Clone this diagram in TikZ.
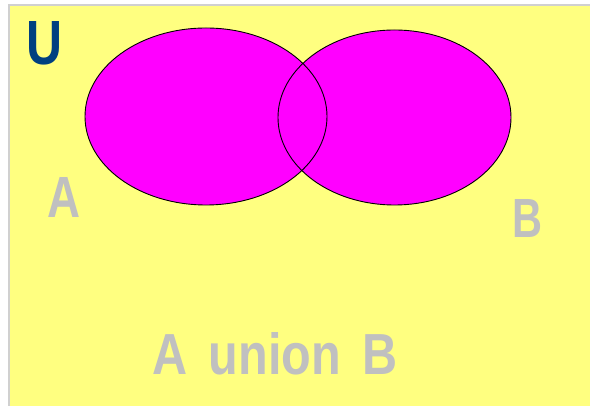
\documentclass[tikz,border=0pt]{standalone}
\usepackage{fontspec}
\setmainfont{Liberation Sans}
\usepackage{graphicx}
\definecolor{bgyellow}{RGB}{255,255,128}
\definecolor{setmag}{RGB}{255,0,255}
\definecolor{lblgray}{RGB}{192,192,192}
\definecolor{ublue}{RGB}{0,64,128}
\definecolor{framegray}{RGB}{208,208,208}
\tikzset{
  setfill/.style={fill=setmag},
  setline/.style={draw=black, line width=0.9pt},
  lbl/.style={inner sep=0pt, outer sep=0pt, anchor=south west, text=lblgray}
}
\begin{document}
\begin{tikzpicture}[x=1pt,y=1pt]
\useasboundingbox (0,0) rectangle (590,406);
\fill[white] (0,0) rectangle (590,406);
\fill[bgyellow] (10,0) rectangle (590,400);
\draw[framegray, line width=2pt] (9,0) -- (9,401) -- (590,401);
% sets
\fill[setfill] (206,289.5) ellipse [x radius=121, y radius=88.5];
\fill[setfill] (394.5,288.5) ellipse [x radius=116.5, y radius=87.5];
\draw[setline] (206,289.5) ellipse [x radius=121, y radius=88.5];
\draw[setline] (394.5,288.5) ellipse [x radius=116.5, y radius=87.5];
% labels
\node[lbl, text=ublue] (u) at (27,341) {\resizebox{36pt}{43pt}{\bfseries U}};
\node[lbl] (a) at (47,188) {\resizebox{33pt}{40pt}{\bfseries A}};
\node[lbl] (b) at (512,168) {\resizebox{30pt}{38pt}{\bfseries B}};
\node[lbl] (ab) at (152,31) {\resizebox{246pt}{42pt}{\bfseries A\hspace{0.45em}union\hspace{0.45em}B}};
\end{tikzpicture}
\end{document}
